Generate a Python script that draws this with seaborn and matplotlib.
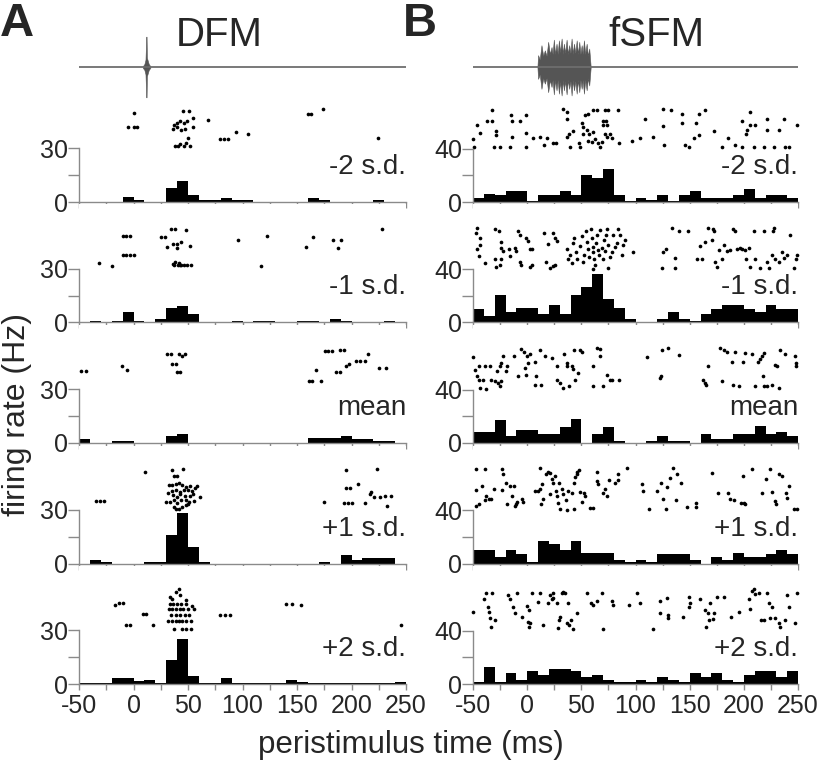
import numpy as np
import pandas as pd
import matplotlib.pyplot as plt
import seaborn as sns

# --- PSTH rates (Hz), 10 ms bins from -50 to 250 ms ---
bin_starts = list(range(-50, 250, 10))
levels = ['-2 s.d.', '-1 s.d.', 'mean', '+1 s.d.', '+2 s.d.']

dfm_rates_m2 = [0, 0, 0, 0, 3, 1, 0, 0, 8, 12, 4, 1, 1, 2, 1, 1, 0, 0, 0, 0, 0, 2, 1, 0, 0, 0, 0, 1, 0, 0]
dfm_rates_m1 = [0, 1, 0, 1, 6, 1, 0, 2, 8, 9, 5, 0, 0, 0, 1, 0, 1, 1, 0, 0, 1, 1, 0, 2, 1, 0, 0, 0, 1, 0]
dfm_rates_mean = [2, 0, 0, 1, 1, 0, 0, 0, 4, 5, 0, 0, 0, 0, 0, 0, 0, 0, 0, 0, 0, 3, 3, 3, 4, 2, 2, 1, 1, 0]
dfm_rates_p1 = [0, 2, 1, 0, 0, 0, 1, 1, 16, 28, 9, 1, 0, 0, 0, 0, 0, 0, 0, 0, 0, 0, 1, 0, 5, 2, 3, 3, 3, 0]
dfm_rates_p2 = [0.5, 0.5, 0.5, 3.5, 3.5, 1.5, 2.5, 0.5, 13.5, 25, 4.5, 0.5, 0.5, 3.5, 0.5, 0.5, 0.5, 0.5,
                0.5, 2, 1, 0.5, 0.5, 0.5, 0.5, 0.5, 0.5, 0.5, 0.5, 1.2]

sfm_rates_m2 = [3, 6, 5, 8, 8, 1, 5, 5, 8, 5, 20, 18, 25, 5, 1, 3, 1.5, 5, 1, 5, 8, 3, 3, 3, 5, 10, 3, 5, 5, 3]
sfm_rates_m1 = [10, 5, 21, 8, 11, 11, 6.5, 13, 6.5, 21, 27, 36.5, 18, 11, 3, 0, 0, 3, 8, 3, 1.5, 6.5, 10, 13, 13, 10, 8, 13, 10, 10]
sfm_rates_mean = [8, 8, 17, 5, 10, 10, 7, 7, 12, 18, 0, 7, 12, 1.5, 0, 0, 1.5, 5, 1.5, 1.5, 0, 7, 3, 3, 7, 7, 13, 7, 8, 5]
sfm_rates_p1 = [10, 10, 5, 10, 7, 1.5, 17, 15, 10, 17, 8, 8, 8, 3, 1.5, 3, 1.5, 7, 7, 7, 3, 0, 5, 3, 8, 5, 5, 7, 10, 7]
sfm_rates_p2 = [1.5, 13, 1.5, 8, 3, 10, 7, 11, 11, 10, 5, 7, 3, 1.5, 1.5, 3, 1.5, 5, 3, 1.5, 8, 5, 8, 3, 1.5, 7, 10, 10, 5, 10]

# --- raster spikes: (time ms, raster row in y-axis units) ---
dfm_spikes_m2 = [(0, 50), (-5, 42), (0, 42), (3, 42), (45, 51), (51, 51),
                 (37, 43), (40, 44), (43, 45), (46, 44), (49, 45), (55, 47), (55, 42), (47, 41),
                 (44, 40), (36, 41), (40, 42), (38, 31.5), (41, 31.5), (43, 32.5), (46, 31.5),
                 (48, 33), (52, 31.5), (50, 36), (68, 46), (79, 35), (83, 35), (87, 35),
                 (94, 39), (105, 38), (160, 49), (163, 49), (174, 52), (224, 35.5)]
dfm_spikes_m1 = [(-31.6, 33), (-19.4, 31.5), (-10, 48.5), (-7, 48.5), (-3.5, 48.5),
                 (-9.6, 37.6), (-6.6, 37.6), (-2.9, 37.6), (0.8, 37.6), (25.5, 47.8), (28.6, 47.8),
                 (34.7, 52), (37.8, 52), (48.5, 51.5), (30.7, 42), (36.2, 44), (39.9, 43.6),
                 (43.9, 45), (40, 41.6), (52, 43), (36, 32.5), (38.5, 34), (41.5, 33.5),
                 (44, 32), (46.5, 32), (49.5, 32), (52.5, 32), (40.5, 32), (43, 32), (37, 32),
                 (95.9, 46), (117, 31.5), (122.5, 48.5), (158, 42), (164.7, 47.8),
                 (183, 46), (190.7, 46), (187.6, 41.5), (228, 52)]
dfm_spikes_mean = [(-47.9, 40.2), (-43.9, 40.2), (-10.2, 43), (-6, 41), (31, 49.6), (34.7, 49.6),
                   (41.7, 49.6), (44.5, 48.7), (47, 49.6), (35.6, 44), (38.7, 44), (40, 39.6),
                   (43, 39.6), (161, 34.8), (164, 34.8), (167.7, 41), (172, 34.8),
                   (175.4, 51.5), (178.7, 51.5), (182.4, 51.5), (189, 52), (192.8, 52),
                   (185.5, 39.4), (189.8, 39.4), (195, 43), (198, 44), (204.4, 45.7),
                   (208, 45.7), (212, 45.7), (215, 49.6), (225, 42), (232, 42)]
dfm_spikes_p1 = [(-34, 35), (-30.4, 35), (-26.8, 35), (11, 51), (35.6, 52), (45.4, 53),
                 (37, 49), (40, 49), (32.6, 43.7), (35.6, 44.1), (38.7, 44.6), (41.7, 45),
                 (44.8, 43.7), (48.5, 42.8), (51.5, 43.1), (56.1, 42.4), (58.3, 43.5),
                 (31.6, 39.4), (35.6, 40.6), (39.3, 41.3), (42.4, 40), (46, 40.9), (50, 41.3),
                 (54, 40.6), (36.2, 38.1), (39.9, 37.2), (43, 38.7), (46.9, 37.6), (51.5, 37.6),
                 (54.6, 38.7), (60.7, 36.9), (29.5, 34.4), (33.2, 34.4), (36.8, 35.4),
                 (39.9, 33.9), (43.9, 35.4), (47.9, 35.7), (50.9, 34.4), (55.2, 35),
                 (36.8, 31.7), (39.3, 30.7), (41.7, 30.2), (44.8, 31.3), (47.9, 32.6), (50, 33.5),
                 (174.5, 34.4), (195.2, 52), (194.6, 41.9), (198.3, 41.9), (206, 44.6),
                 (192.8, 33.9), (196.8, 33.9), (200.4, 33.9), (212, 33.9), (216.7, 39),
                 (218, 40), (221, 37.2), (223.7, 53), (225.8, 37.2), (230.4, 37.6),
                 (236.5, 37.6), (233, 32)]
dfm_spikes_p2 = [(-17.3, 44), (-13.3, 45), (-9.6, 45), (-6.6, 32.8), (-3.5, 32.8), (8.7, 39.3),
                 (11.8, 39.3), (17.9, 32.8), (41.7, 53.3), (39.3, 51.4), (42.4, 49.5),
                 (33.2, 48.6), (35.6, 47.7), (47.9, 46.7), (33.2, 44.5), (36.2, 44.5),
                 (39.9, 44.5), (43.9, 44.5), (48.5, 44.5), (54, 43.5), (32.6, 41.8), (35.6, 41.8),
                 (39.3, 41.8), (42.4, 41.8), (45.4, 41.8), (50, 41.8), (55.2, 41.8), (34.7, 38.5),
                 (38.7, 38.5), (43, 38.5), (46.9, 38.5), (50.9, 38.5), (31.6, 35), (35.6, 35),
                 (38.7, 35), (41.7, 35), (44.8, 35), (48.5, 35), (53.1, 35), (36.8, 30.5),
                 (44.8, 30.5), (48.5, 30.5), (53.1, 30.5), (79, 38.3), (83.6, 38.3), (88.2, 38.3),
                 (139.6, 44.9), (145.7, 44.9), (154, 44), (245, 32.8)]

sfm_spikes_m2 = [(-50, 47.5), (-49, 41), (-46.3, 58), (-43.8, 52), (-36.7, 61), (-32.1, 69),
                 (-32.1, 61), (-30.9, 41), (-25.3, 41), (-29, 53), (-28.4, 50), (-16, 41),
                 (-14.5, 65), (-13.6, 61), (-13.6, 49), (-6.8, 60.8), (-1.3, 65), (-0.7, 52),
                 (-0.7, 41), (5.5, 48), (12.3, 49), (18.5, 48), (15.4, 42.5), (24, 44), (27, 44),
                 (33.3, 70), (36.4, 67.5), (37, 62.5), (36.4, 49), (38.8, 51), (41.9, 53),
                 (39.4, 41), (48.7, 41), (48, 44), (50.2, 59), (51.8, 56), (51.2, 51),
                 (53.3, 65), (56.4, 66), (60.4, 69), (64.1, 69), (54.9, 54), (57.3, 51),
                 (61, 52.5), (56.4, 46), (59.5, 45), (62.6, 47), (65.7, 44), (67.2, 41),
                 (68.7, 45), (69.7, 61), (72.7, 61), (74, 58), (69.7, 58), (71.8, 51),
                 (76.4, 51), (73.4, 49), (78, 48), (71.8, 69), (74.9, 69), (84.2, 69), (85, 44),
                 (96.5, 46), (104.2, 48), (108.8, 62), (116.5, 49), (125.2, 70), (132.6, 69),
                 (125.8, 57), (126.4, 43), (142.7, 66), (142.7, 59), (145.8, 42.5), (149.8, 41),
                 (156, 59), (159, 66), (164.3, 69), (154.2, 48), (159, 50), (172, 53),
                 (179.8, 41), (185, 48), (192, 43), (198.3, 61), (198.3, 41), (202.3, 51),
                 (202.9, 54), (206, 58), (210.6, 58), (205.4, 67.5), (209, 41), (218.3, 41),
                 (221.4, 62.5), (221.4, 54), (227.5, 41), (232.2, 54), (236.8, 62),
                 (238.3, 41), (241.4, 41), (249, 57.5)]
sfm_spikes_m1 = [(-46.3, 71), (-47.5, 66.8), (-43.8, 63.5), (-46.3, 55.5), (-44.5, 50),
                 (-39.2, 45), (-43.2, 58.5), (-30, 70), (-26, 69), (-30, 48), (-28.4, 42),
                 (-25.3, 43.5), (-23.8, 48), (-24.4, 60.5), (-23.8, 56), (-22.2, 54),
                 (-16.7, 55.5), (-15.5, 50), (-11.5, 56), (-10, 54), (-6.8, 45.5), (-5.3, 43),
                 (-8.4, 68.5), (-6.8, 66), (-1.3, 63.5), (2.4, 55.5), (0.9, 61), (4.9, 55.5),
                 (4.9, 43), (2.4, 42), (15.4, 67), (17.2, 45.5), (19.4, 59), (21.5, 41),
                 (23.4, 67), (25.6, 63.5), (27.1, 61), (24, 42.5), (25.6, 43),
                 (37, 55), (37.9, 48), (39.4, 51), (41, 44.3), (41.9, 59.3), (43.1, 63.5),
                 (45, 53), (46.2, 48), (48.7, 57.5), (50.2, 65), (51.8, 45.5), (52.4, 51),
                 (54.2, 68.5), (54.9, 60.5), (56.4, 55.5), (57.3, 49.3), (58.6, 70),
                 (59.5, 63.5), (60.4, 56.8), (61, 53), (61.6, 47.5), (62.6, 43), (63.5, 60),
                 (64.1, 65.5), (65.7, 54.3), (66.6, 50.5), (67.2, 69.3), (68.7, 56),
                 (69.7, 47.5), (70.9, 61.8), (71.8, 53.5), (72.7, 65.5), (74, 70.5), (74.9, 58),
                 (76.4, 49.3), (78, 53), (79.5, 65.5), (81.1, 56.8), (82.6, 60), (84.2, 70),
                 (85.7, 66), (87.2, 51), (88.8, 58), (90.3, 61.8), (98, 53), (61, 40.5),
                 (74.9, 41), (124.2, 41), (125.8, 53), (128.3, 55.5), (134.1, 71),
                 (136.5, 48.5), (136.5, 41), (140.6, 69), (148.9, 68.5), (156.6, 48),
                 (161.3, 48), (159.7, 57.5), (164.3, 60.5), (166.5, 71), (170.5, 61.8),
                 (171.4, 70), (172, 69), (173.6, 45.5), (175.1, 41.8), (176.7, 54.3),
                 (179.8, 48), (181.3, 58), (184.4, 53.5), (187.5, 54.3), (189.9, 70),
                 (192.1, 68.5), (193.6, 55.5), (196.1, 56), (198.3, 55), (201.3, 54.3),
                 (204.4, 56), (202.3, 48), (206, 41.8), (209, 68.5), (210.6, 48), (215.2, 41),
                 (218.3, 68.5), (221.4, 45.5), (222.9, 41), (226, 50.5), (226.9, 68.5),
                 (227.6, 71), (229.1, 48), (232.2, 45.5), (235.3, 53), (236.8, 48.5),
                 (239.9, 50.5), (243, 66), (246.1, 41), (248.5, 48), (249.2, 50.5)]
sfm_spikes_mean = [(-50, 64.5), (-48.5, 54.5), (-46.3, 50.5), (-44.4, 47.5), (-40.7, 47),
                   (-43.8, 41.3), (-37.7, 40.5), (-44.4, 58), (-39.2, 58), (-34.6, 58),
                   (-33, 47.5), (-30, 46.3), (-26.9, 45), (-25.3, 42.5), (-23.8, 46.3),
                   (-27.8, 53.8), (-25.3, 57.5), (-23.8, 60), (-22.2, 65.5), (-19.8, 53.8),
                   (-18.5, 57.5), (-12.4, 65), (-8.4, 50), (-5.3, 70.5), (-3.1, 68), (0, 65.5),
                   (0.9, 60), (2.4, 67), (-2.2, 56), (-0.7, 51.3), (7, 60.5), (7, 43.8),
                   (8.6, 50.5), (13.2, 43.8), (12.3, 70), (16.3, 65.5), (22.5, 63.8),
                   (27.1, 57.5), (27.1, 47), (30.2, 45), (33.3, 41.3), (33.9, 67), (36.4, 60),
                   (38.8, 43), (36.4, 57.5), (41, 58), (41.9, 55.5), (43.1, 69.5), (44, 47.5),
                   (47.1, 52.5), (48.7, 70), (50.2, 68), (60.4, 58), (60.4, 42.5), (64.1, 71),
                   (67.2, 70.5), (67.2, 65), (70.3, 42.5), (73.4, 51.3), (76.4, 47.5),
                   (78, 47.5), (85.1, 47.5), (110.4, 64.5), (122.7, 48.8), (123.3, 50.5),
                   (124.2, 70), (130.4, 71.3), (139.7, 66.3), (162.2, 47.5), (164.3, 45),
                   (165.2, 43.8), (166.5, 58), (177.6, 71.3), (179.8, 46.3), (181.3, 70),
                   (184.4, 68), (189, 60.5), (189.9, 43.8), (192.1, 68), (195.2, 43),
                   (199.2, 60.5), (201.3, 67.5), (207.5, 67), (210.6, 42.5), (212.8, 60.5),
                   (215.2, 63), (216.8, 65.5), (218.3, 67.5), (217.7, 50), (218.3, 43),
                   (221.4, 42.5), (226, 43.8), (229.1, 58.8), (232.2, 41.3), (230.6, 57.5),
                   (233.7, 69.5), (238.4, 67), (247.6, 65.5), (248.5, 60), (248.5, 58)]
sfm_spikes_p1 = [(-47.5, 71), (-46.9, 55.5), (-47.5, 43), (-44.4, 44.3), (-41.4, 58),
                 (-39.2, 71), (-39.2, 47.5), (-37.7, 50.5), (-35.2, 48.5), (-33, 48.5),
                 (-30.9, 56), (-22.9, 71), (-22.2, 66.8), (-22.9, 55.5), (-19.8, 60.5),
                 (-18.5, 45), (-16.1, 58), (-12.4, 58), (-13.6, 50.5), (-11.5, 43),
                 (-10.5, 44.3), (-9.3, 46), (-4.4, 48.5), (-3.7, 46),
                 (7.1, 54.3), (10.1, 54.3), (11.7, 56), (12.3, 71.8), (13.2, 45), (14.1, 59.3),
                 (14.8, 48.5), (17.2, 66.8), (19.4, 68.5), (20.9, 68), (21.5, 52.5),
                 (22.5, 63.5), (24, 60.5), (25.6, 66), (26.5, 54.3), (27.7, 50.5),
                 (28.6, 45.5), (29.6, 60.5), (30.2, 41), (31.7, 56), (32.7, 52.5),
                 (35.7, 47.5), (36.4, 40.5), (37.9, 54.3), (41, 53), (43.1, 41), (43.1, 60.5),
                 (44.1, 65), (45.6, 66.8), (46.2, 68.5), (48.1, 70.5), (48.7, 53.5),
                 (50.2, 46), (52.4, 53), (53.3, 50.5), (57.9, 41.8), (61, 41.8), (64.1, 68.5),
                 (64.1, 61.8), (65.7, 59.3), (69.7, 53), (71.8, 56), (73.4, 50.5), (75.8, 63),
                 (81.1, 60.5), (84.2, 63), (83.5, 66.8), (91.9, 71.8),
                 (105.7, 59.3), (107.3, 54.3), (112.8, 41), (120.2, 54.3), (123.3, 60.5),
                 (125.2, 48.5), (128.3, 41), (129.5, 57.5), (132, 64.3), (134.4, 71.8),
                 (137.5, 48), (138.1, 66.8), (141.8, 60.5), (147.4, 42.5), (156, 42.5),
                 (156, 45.5), (170.5, 68), (176, 53), (185, 53), (187.5, 48.5), (190.5, 48),
                 (197.3, 45.5), (199.2, 66), (201.3, 45), (199.8, 45.5), (207.5, 71),
                 (216.8, 53), (220.8, 63.5), (224.5, 71), (226, 53.5), (229.1, 46.8),
                 (230, 45), (232.2, 67.5), (235.3, 65.5), (239.3, 53), (239.9, 49.3),
                 (241.4, 58), (246, 41), (249.2, 41)]
sfm_spikes_p2 = [(-50, 54.3), (-40.1, 63.5), (-37.7, 68.5), (-36.1, 58), (-35.2, 54.3),
                 (-34, 49.3), (-33, 42.5), (-30, 48), (-32.1, 68.5), (-17.6, 66.8),
                 (-16.1, 63.5), (-13, 58), (-11.4, 53.5), (-9.3, 68.5), (-4.4, 50.5),
                 (0, 58.5), (1.8, 55.5), (0.9, 46.8), (2.4, 45.5), (1.8, 42.5), (4.9, 68.5),
                 (10.1, 61.8), (11.7, 68.5), (14.8, 44.3), (19.4, 60.5), (20.9, 66.8),
                 (22.5, 63.5), (24, 64.3), (23.4, 68.5), (27.1, 60.5), (28.6, 41.8),
                 (29.6, 48), (30.2, 50.5), (31.7, 68.5), (33.3, 69.3), (34.8, 68),
                 (36.4, 45.5), (37.9, 60.5), (38.8, 44.3), (40, 48), (41.9, 41), (45.6, 53),
                 (54.9, 68.5), (58.6, 60.5), (60.4, 59.3), (64.7, 62.5), (68.7, 68.5),
                 (69.7, 41), (78, 62), (79.5, 59.3), (94.3, 59.3), (101.7, 68.5), (104.2, 61),
                 (115.9, 41), (122.7, 62), (122.7, 53.5), (128.9, 64.3), (130.4, 51.8),
                 (130.4, 49.3), (143.7, 50.5), (149.8, 58), (150.5, 60.5), (149.8, 65),
                 (159.1, 63.5), (164.3, 55.5), (165.3, 43), (166.5, 53.5), (167.4, 48),
                 (169, 60.5), (171.4, 48.5), (172.7, 53), (175.1, 65.5), (181.3, 65),
                 (188.1, 50.5), (195.2, 54.3), (204.4, 63.5), (205.4, 56), (207.5, 70),
                 (209, 71), (210.6, 67.5), (213.7, 68.5), (215.8, 48), (218.3, 48),
                 (221.4, 68.5), (222.9, 60.5), (224.5, 49.3), (226, 58), (229.1, 49.3),
                 (232.2, 45.5), (233.7, 43), (238.4, 48), (239.9, 66.8), (241.4, 58),
                 (247.6, 45.5), (249.2, 68)]

# --- stimulus envelopes (ms, relative amplitude) ---
dfm_stim_t = [8.5, 10, 11, 11.7, 12, 12.3, 13, 14, 15.5]
dfm_stim_amp = [0.02, 0.08, 0.2, 0.82, 0.82, 0.25, 0.18, 0.08, 0.02]
sfm_stim_t = [9.5, 10.1, 11.6, 13.2, 14.8, 16.3, 17.9, 19.4, 21, 22.5, 23.5, 24.6, 25.8, 27.1,
              28.2, 29.3, 30.5, 31.8, 32.9, 33.9, 35.1, 36.4, 37.6, 38.8, 40, 41, 42.1, 43.2,
              44.5, 45.7, 46.9, 48.1, 49.2, 50.3, 51.3, 52.4, 53.6, 54.9, 56.1, 57.3, 58.6]
sfm_stim_amp = [0.02, 0.32, 0.2, 0.59, 0.3, 0.45, 0.3, 0.68, 0.35, 0.54, 0.35, 0.74, 0.35, 0.63,
                0.35, 0.72, 0.4, 0.77, 0.35, 0.63, 0.38, 0.74, 0.35, 0.59, 0.38, 0.77, 0.35, 0.63,
                0.38, 0.72, 0.35, 0.68, 0.35, 0.59, 0.35, 0.72, 0.35, 0.63, 0.3, 0.5, 0.02]

dfm_rates = [dfm_rates_m2, dfm_rates_m1, dfm_rates_mean, dfm_rates_p1, dfm_rates_p2]
sfm_rates = [sfm_rates_m2, sfm_rates_m1, sfm_rates_mean, sfm_rates_p1, sfm_rates_p2]
dfm_spikes = [dfm_spikes_m2, dfm_spikes_m1, dfm_spikes_mean, dfm_spikes_p1, dfm_spikes_p2]
sfm_spikes = [sfm_spikes_m2, sfm_spikes_m1, sfm_spikes_mean, sfm_spikes_p1, sfm_spikes_p2]

sns.set_style('white')
plt.rcParams['font.family'] = ['Liberation Sans', 'DejaVu Sans']

W, H = 821, 761
fig = plt.figure(figsize=(W / 100, H / 100), dpi=100)


def add_ax(x0, top, w, h):
    return fig.add_axes([x0 / W, 1 - (top + h) / H, w / W, h / H])


axis_grey = '#8a8a8a'
centers = [b + 5 for b in bin_starts]

columns = [
    dict(x0=79, w=327, rates=dfm_rates, spikes=dfm_spikes, yt=30, px_per_hz=1.79),
    dict(x0=473, w=325, rates=sfm_rates, spikes=sfm_spikes, yt=40, px_per_hz=1.333),
]
panel_h = 118

for col in columns:
    for r in range(5):
        zero_px = 202 + 120.5 * r
        ax = add_ax(col['x0'], zero_px - panel_h, col['w'], panel_h)
        df = pd.DataFrame({'t': centers, 'rate': col['rates'][r]})
        sns.histplot(data=df, x='t', weights='rate', binwidth=10, binrange=(-50, 250),
                     color='black', alpha=1, linewidth=0, ax=ax)
        sp = pd.DataFrame(col['spikes'][r], columns=['t', 'row'])
        sns.scatterplot(data=sp, x='t', y='row', s=7, color='black', linewidth=0,
                        ax=ax, clip_on=False)
        ax.set_xlim(-50, 250)
        ax.set_ylim(0, panel_h / col['px_per_hz'])
        ax.set_xlabel('')
        ax.set_ylabel('')
        sns.despine(ax=ax)
        for s in ['left', 'bottom']:
            ax.spines[s].set_color(axis_grey)
            ax.spines[s].set_linewidth(1)
        ax.spines['left'].set_bounds(0, col['yt'])
        yt = col['yt']
        ax.set_yticks([0, yt / 2, yt])
        ax.set_yticklabels(['0', '', str(yt)])
        ax.set_xticks(np.arange(-50, 251, 25))
        if r == 4:
            ax.set_xticklabels([str(v) if v % 50 == 0 else '' for v in range(-50, 251, 25)])
        else:
            ax.set_xticklabels([])
        ax.tick_params(axis='y', direction='out', length=8, width=1, color=axis_grey,
                       labelsize=18, pad=0, left=True)
        ax.tick_params(axis='x', direction='out', length=4, width=1, color=axis_grey,
                       labelsize=18, pad=3, bottom=True)
        ax.text(1.0, 35 / panel_h, levels[r], transform=ax.transAxes, ha='right',
                va='center', fontsize=20)

# stimulus waveforms
for x0, w, st, sa in [(79, 327, dfm_stim_t, dfm_stim_amp), (473, 325, sfm_stim_t, sfm_stim_amp)]:
    sax = add_ax(x0, 30, w, 74)
    sax.plot([-50, 250], [0, 0], color='#6e6e6e', lw=1.3)
    sax.fill_between(st, [-a for a in sa], sa, color='#555555', lw=0.4)
    sax.set_xlim(-50, 250)
    sax.set_ylim(-1, 1)
    sax.axis('off')

fig.text(0 / W, 1 - 24 / H, 'A', fontsize=34, fontweight='bold', va='center', ha='left')
fig.text(403 / W, 1 - 24 / H, 'B', fontsize=34, fontweight='bold', va='center', ha='left')
fig.text(219 / W, 1 - 35 / H, 'DFM', fontsize=29, va='center', ha='center')
fig.text(656 / W, 1 - 35 / H, 'fSFM', fontsize=29, va='center', ha='center')
fig.text(17 / W, 1 - 415 / H, 'firing rate (Hz)', fontsize=23, rotation=90,
         va='center', ha='center')
fig.text(411 / W, 1 - 745 / H, 'peristimulus time (ms)', fontsize=22.5,
         va='center', ha='center')

fig.savefig('out.png', dpi=100)
